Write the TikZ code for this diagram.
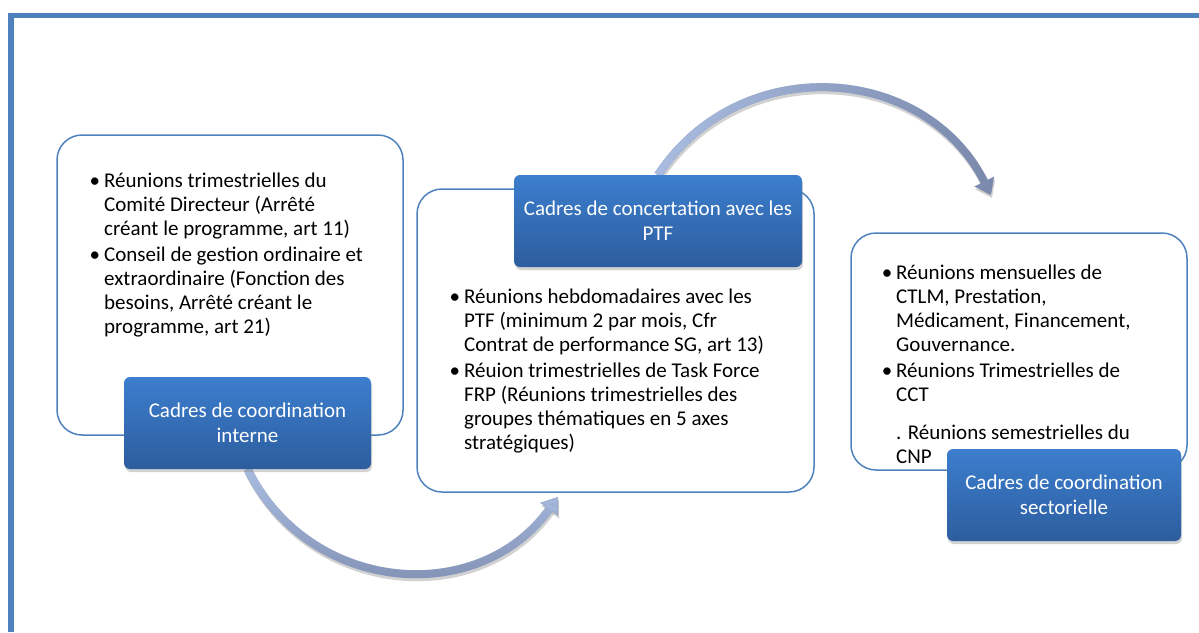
\documentclass[tikz,border=0pt]{standalone}
\usepackage{fontspec}
\setmainfont{Carlito}
\usetikzlibrary{shadows, fadings, arrows.meta}
\definecolor{frameblue}{RGB}{79,129,189}
\definecolor{boxtop}{RGB}{60,126,206}
\definecolor{boxbottom}{RGB}{45,93,158}
\definecolor{flowlight}{RGB}{170,189,225}
\definecolor{flowdark}{RGB}{122,137,172}
\newcommand*\bul{\makebox[0pt][r]{\textbullet\hspace{4pt}}}
\tikzset{
  panel/.style={draw=frameblue, line width=1.5pt, rounded corners=25pt, fill=white},
  headbox/.style={rounded corners=6pt, top color=boxtop, bottom color=boxbottom,
    text=white, align=center, font=\fontsize{21}{25}\selectfont,
    drop shadow={shadow xshift=1pt, shadow yshift=-3pt, opacity=0.35}},
  items/.style={anchor=base west, align=left, inner sep=0pt, font=\fontsize{21}{24}\selectfont},
  flow/.style={line width=8pt, -{Triangle[length=15pt, width=21pt]}},
  flowshadow/.style={flow, draw=black, opacity=0.18, transform canvas={xshift=1pt, yshift=-3pt}},
}

\begin{document}
\begin{tikzpicture}[x=1pt, y=-1pt]
        \useasboundingbox (0,0) rectangle (1199,632);
        \draw[line width=5.5pt, frameblue] (11,632) -- (11,15.5) -- (1199,15.5);

        % panels
        \node[panel, minimum width=346, minimum height=300] (p1) at (230,285) {};
        \node[panel, minimum width=397, minimum height=303] (p2) at (615.5,340.5) {};
        \node[panel, minimum width=336, minimum height=237] (p3) at (1019,351.5) {};

        \coordinate (e1) at (558,497);
        \coordinate (e2) at (991,195);
        \coordinate (h1s) at (247.5,469);
        \coordinate (h2n) at (658,175);

        % arrows
        \draw[flowshadow] (h1s) .. controls (308.8,593.7) and (478.4,608.5) .. (e1);
        \draw[flow, draw=flowdark] (h1s) .. controls (308.8,593.7) and (478.4,608.5) .. (e1);
        \draw[flow, draw=flowlight, path fading=south] (h1s) .. controls (308.8,593.7) and (478.4,608.5) .. (e1);
        \draw[flowshadow] (h2n) .. controls (740.4,50.5) and (925,63.2) .. (e2);
        \draw[flow, draw=flowdark] (h2n) .. controls (740.4,50.5) and (925,63.2) .. (e2);
        \draw[flow, draw=flowlight, path fading=east] (h2n) .. controls (740.4,50.5) and (925,63.2) .. (e2);

        % headings
        \node[headbox, minimum width=247, minimum height=92] (h1) at (247.5,423) {Cadres de coordination\\interne};
        \node[headbox, minimum width=288, minimum height=92] (h2) at (658,221) {Cadres de concertation avec les\\PTF};
        \node[headbox, minimum width=234, minimum height=92] (h3) at (1064,495) {Cadres de coordination\\sectorielle};

        % lists (base = last line)
        \node[items] (l1) at (104,333) {\bul Réunions trimestrielles du\\Comité Directeur (Arrêté\\créant le programme, art 11)\\[2pt]\bul Conseil de gestion ordinaire et\\extraordinaire (Fonction des\\besoins, Arrêté créant le\\programme, art 21)};
        \node[items] (l2) at (464,449) {\bul Réunions hebdomadaires avec les\\PTF (minimum 2 par mois, Cfr\\Contrat de performance SG, art 13)\\[2pt]\bul Réuion trimestrielles de Task Force\\FRP (Réunions trimestrielles des\\groupes thématiques en 5 axes\\stratégiques)};
        \node[items] (l3) at (896,463) {\bul Réunions mensuelles de\\CTLM, Prestation,\\Médicament, Financement,\\Gouvernance.\\[2pt]\bul Réunions Trimestrielles de\\CCT\\[14pt]. Réunions semestrielles du\\CNP};
    \end{tikzpicture}
\end{document}
